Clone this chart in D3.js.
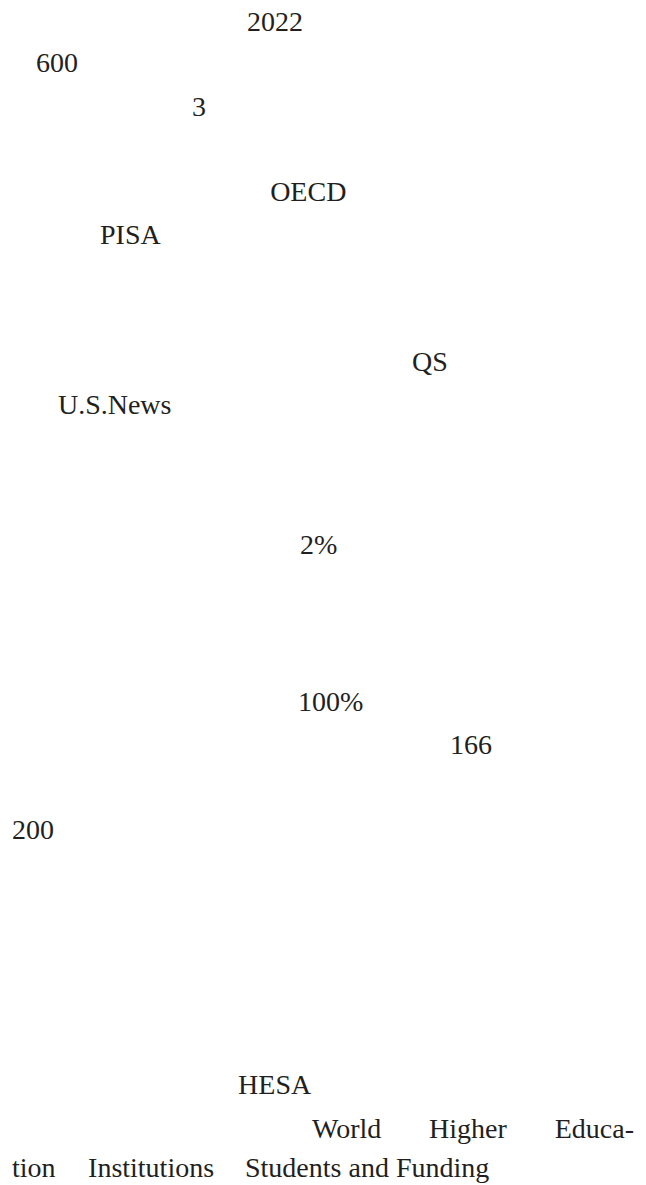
<!DOCTYPE html>
<html>
<head>
<meta charset="utf-8">
<script src="https://cdn.jsdelivr.net/npm/d3@7"></script>
<style>
  html, body { margin: 0; padding: 0; background: #fff; }
  svg { display: block; }
</style>
</head>
<body>
<div id="page"></div>
<script>
// Latin fragments of the page (the CJK glyphs did not render in the source)
var texts = ["2022", "600", "3", "OECD", "PISA", "QS", "U.S.News", "2%",
             "100%", "166", "200", "HESA", "World Higher Educa-",
             "tion", "Institutions", "Students and Funding"];
// text line the fragment sits on
var rows = [0, 0.97, 2, 4, 5, 8, 9, 12.3, 16, 17, 19, 25, 26.04, 26.95, 26.95, 26.95];
// offset into the line, in character cells
var cols = [9.82, 1, 7.52, 10.79, 3.68, 16.72, 1.92, 12.04,
            11.96, 18.31, 0, 9.45, 12.54, 0, 3.18, 9.74];
// fragments that run on to the right edge of the justified block
var justified = ["World Higher Educa-"];

var width = 646,
    height = 1185,
    margin = {left: 12, right: 12};

var svg = d3.select("#page").append("svg")
    .attr("width", width)
    .attr("height", height);

// columns of the text block -> x, line number -> baseline
var x = d3.scaleLinear().domain([0, 26]).range([margin.left, width - margin.right]);
var y = d3.scaleLinear().domain([0, 27]).range([31, 1179]);

var items = texts.map(function(t, i) {
  return {text: t, row: rows[i], col: cols[i]};
});

var frag = svg.selectAll("text.frag")
    .data(items)
  .enter().append("text")
    .attr("class", "frag")
    .attr("x", function(d) { return x(d.col); })
    .attr("y", function(d) { return y(d.row); })
    .style("font-family", "'Liberation Serif', 'Times New Roman', serif")
    .style("font-size", "28px")
    .style("fill", "#231f20")
    .text(function(d) { return d.text; });

// spread the word gaps so the line ends at the right margin
frag.filter(function(d) { return justified.indexOf(d.text) >= 0; })
    .each(function(d) {
      var len = this.getComputedTextLength(),
          gaps = d.text.split(" ").length - 1,
          room = x.range()[1] - x(d.col) - len;
      if (gaps > 0 && room > 0) {
        d3.select(this).style("word-spacing", (room / gaps) + "px");
      }
    });
</script>
</body>
</html>
